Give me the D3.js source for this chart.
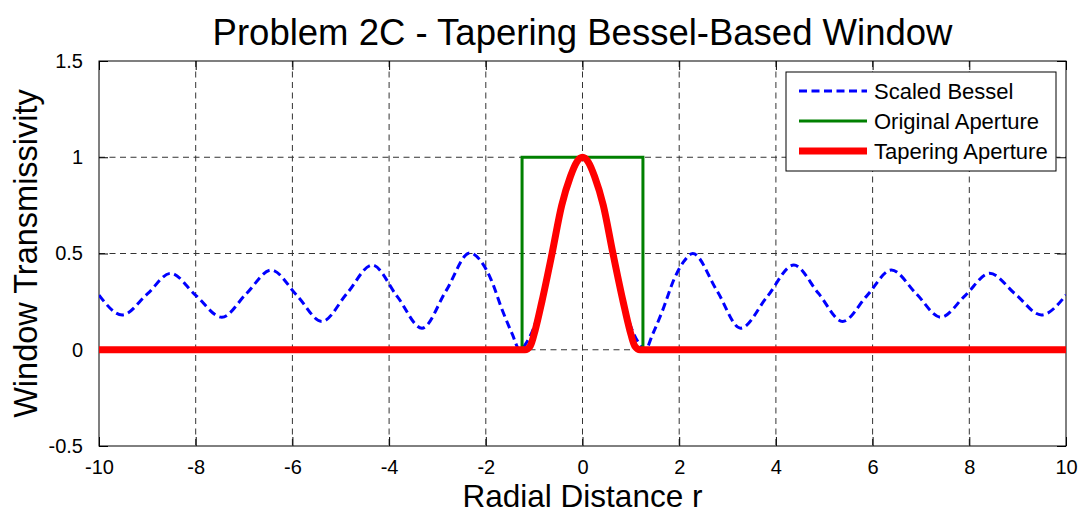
<!DOCTYPE html>
<html>
<head>
<meta charset="utf-8">
<script src="https://cdn.jsdelivr.net/npm/d3@7"></script>
<style>
  body { margin: 0; background: #fff; }
  svg { font-family: "Liberation Sans", Arial, sans-serif; }
</style>
</head>
<body>
<script>
// window chart

const width = 1082;
const height = 514;
const margin = {top: 61, left: 99, bottom: 68, right: 16};

// scaled bessel
const besselR = [-10, -9.52, -9.0, -8.52, -8.0, -7.46, -6.95, -6.44, -5.9, -5.39, -4.87, -4.35, -3.83, -3.32, -2.82,
    -2.33, -2.1, -1.9, -1.65, -1.45, -1.3, -1.15, -1.0, -0.84, -0.63, -0.43, -0.25, -0.12, 0,
    0.12, 0.25, 0.43, 0.63, 0.84, 1.0, 1.15, 1.3, 1.45, 1.65, 1.9, 2.1, 2.28,
    2.78, 3.27, 3.82, 4.37, 4.88, 5.38, 5.88, 6.39, 6.9, 7.41, 7.92, 8.42, 8.95, 9.49, 10];
const besselV = [0.284, 0.181, 0.29, 0.397, 0.283, 0.169, 0.292, 0.414, 0.28, 0.147, 0.293, 0.44, 0.276, 0.112, 0.307,
    0.503, 0.46, 0.37, 0.2, 0.08, 0, 0.04, 0.12, 0.26, 0.5, 0.74, 0.9, 0.975, 1,
    0.975, 0.9, 0.74, 0.5, 0.26, 0.12, 0.04, 0, 0.08, 0.2, 0.37, 0.46, 0.5,
    0.307, 0.112, 0.276, 0.44, 0.293, 0.147, 0.28, 0.414, 0.292, 0.169, 0.283, 0.397, 0.29, 0.181, 0.284];

// original aperture
const apertureR = [-10, -1.25, -1.25, 1.25, 1.25, 10];
const apertureV = [0, 0, 1, 1, 0, 0];

// tapering aperture
const taperR = [-10, -1.19, -1.08, -0.98, -0.84, -0.63, -0.43, -0.25, -0.12, 0, 0.12, 0.25, 0.43, 0.63, 0.84, 0.98, 1.08, 1.19, 10];
const taperV = [0, 0, 0.02, 0.1, 0.25, 0.5, 0.75, 0.9, 0.975, 1, 0.975, 0.9, 0.75, 0.5, 0.25, 0.1, 0.02, 0, 0];

const xTicks = [-10, -8, -6, -4, -2, 0, 2, 4, 6, 8, 10];
const yTicks = [-0.5, 0, 0.5, 1, 1.5];
const seriesNames = ['Scaled Bessel', 'Original Aperture', 'Tapering Aperture'];

const x = d3.scaleLinear().domain([-10, 10]).range([margin.left, width - margin.right]);
const y = d3.scaleLinear().domain([-0.5, 1.5]).range([height - margin.bottom, margin.top]);

const svg = d3.select('body').append('svg').attr('width', width).attr('height', height);

svg.append('defs').append('clipPath').attr('id', 'clip')
    .append('rect')
    .attr('x', margin.left).attr('y', margin.top)
    .attr('width', width - margin.left - margin.right)
    .attr('height', height - margin.top - margin.bottom);

// grid
const grid = svg.append('g')
    .attr('stroke', '#333').attr('stroke-width', 1).attr('stroke-dasharray', '6,4.5');
grid.selectAll('.gx').data(xTicks.slice(1, -1)).enter().append('line')
    .attr('x1', d => x(d)).attr('x2', d => x(d))
    .attr('y1', y(1.5)).attr('y2', y(-0.5));
grid.selectAll('.gy').data(yTicks.slice(1, -1)).enter().append('line')
    .attr('y1', d => y(d)).attr('y2', d => y(d))
    .attr('x1', x(-10)).attr('x2', x(10));

// axes (ticks inward, on all sides)
const tickLen = 9;
const fmt = d => String(d);
svg.append('g')
    .attr('transform', `translate(0, ${y(-0.5)})`)
    .call(d3.axisBottom(x).tickValues(xTicks).tickFormat(fmt).tickSize(-tickLen).tickPadding(tickLen + 5).tickSizeOuter(0))
    .call(g => g.select('.domain').remove());
svg.append('g')
    .attr('transform', `translate(0, ${y(1.5)})`)
    .call(d3.axisTop(x).tickValues(xTicks).tickSize(-tickLen).tickFormat('').tickSizeOuter(0))
    .call(g => g.select('.domain').remove());
svg.append('g')
    .attr('transform', `translate(${x(-10)}, 0)`)
    .call(d3.axisLeft(y).tickValues(yTicks).tickFormat(fmt).tickSize(-tickLen).tickPadding(tickLen + 7).tickSizeOuter(0))
    .call(g => g.select('.domain').remove());
svg.append('g')
    .attr('transform', `translate(${x(10)}, 0)`)
    .call(d3.axisRight(y).tickValues(yTicks).tickSize(-tickLen).tickFormat('').tickSizeOuter(0))
    .call(g => g.select('.domain').remove());

svg.selectAll('.tick line').attr('stroke', '#000');
svg.selectAll('.tick text').attr('fill', '#000').style('font-size', '20px')
    .style('font-family', '"Liberation Sans", Arial, sans-serif');

svg.append('rect')
    .attr('x', x(-10)).attr('y', y(1.5))
    .attr('width', x(10) - x(-10)).attr('height', y(-0.5) - y(1.5))
    .attr('fill', 'none').attr('stroke', '#000').attr('stroke-width', 1);

// lines
const line = d3.line().x(d => x(d[0])).y(d => y(d[1]));
const plot = svg.append('g').attr('clip-path', 'url(#clip)');

plot.append('path')
    .datum(d3.zip(besselR, besselV))
    .attr('d', line.curve(d3.curveMonotoneX))
    .attr('fill', 'none').attr('stroke', '#0000ff').attr('stroke-width', 3)
    .attr('stroke-dasharray', '8,4.5');

plot.append('path')
    .datum(d3.zip(apertureR, apertureV))
    .attr('d', line.curve(d3.curveLinear))
    .attr('fill', 'none').attr('stroke', '#008000').attr('stroke-width', 3);

plot.append('path')
    .datum(d3.zip(taperR, taperV))
    .attr('d', line.curve(d3.curveMonotoneX))
    .attr('fill', 'none').attr('stroke', '#ff0000').attr('stroke-width', 7)
    .attr('stroke-linejoin', 'round');

// labels
svg.append('text')
    .attr('x', (x(-10) + x(10)) / 2).attr('y', 45)
    .attr('text-anchor', 'middle').style('font-size', '36.5px')
    .text('Problem 2C - Tapering Bessel-Based Window');

svg.append('text')
    .attr('x', (x(-10) + x(10)) / 2).attr('y', 507)
    .attr('text-anchor', 'middle').style('font-size', '31.5px')
    .text('Radial Distance r');

svg.append('text')
    .attr('transform', `translate(37, ${(y(-0.5) + y(1.5)) / 2}) rotate(-90)`)
    .attr('text-anchor', 'middle').style('font-size', '32.5px')
    .text('Window Transmissivity');

// legend
const legend = svg.append('g');
legend.append('rect')
    .attr('x', 786).attr('y', 72).attr('width', 270).attr('height', 99)
    .attr('fill', '#fff').attr('stroke', '#000').attr('stroke-width', 1);
const legendStyles = [
    {color: '#0000ff', width: 3, dash: '8,4.5'},
    {color: '#008000', width: 3, dash: null},
    {color: '#ff0000', width: 7, dash: null}
];
seriesNames.forEach((name, i) => {
    const ly = 91 + i * 30;
    legend.append('line')
        .attr('x1', 799).attr('x2', 867).attr('y1', ly).attr('y2', ly)
        .attr('stroke', legendStyles[i].color).attr('stroke-width', legendStyles[i].width)
        .attr('stroke-dasharray', legendStyles[i].dash);
    legend.append('text')
        .attr('x', 874).attr('y', ly + 7.5).style('font-size', '22px')
        .text(name);
});
</script>
</body>
</html>
